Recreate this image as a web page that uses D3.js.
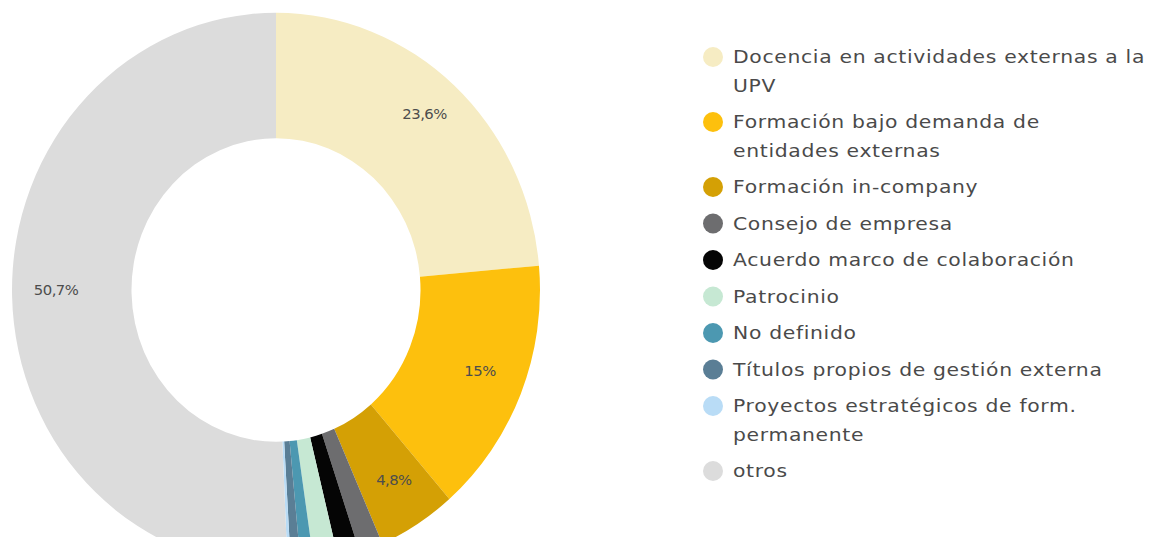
<!DOCTYPE html>
<html>
<head>
<meta charset="utf-8">
<script src="https://cdn.jsdelivr.net/npm/d3@7"></script>
<style>
  body { margin: 0; background: #fff; }
  svg { display: block; }
</style>
</head>
<body>
<div class="chart"></div>
<script>
// data
const categories = [
  'Docencia en actividades externas a la UPV',
  'Formación bajo demanda de entidades externas',
  'Formación in-company',
  'Consejo de empresa',
  'Acuerdo marco de colaboración',
  'Patrocinio',
  'No definido',
  'Títulos propios de gestión externa',
  'Proyectos estratégicos de form. permanente',
  'otros'
];
const values = [23.6, 15, 4.8, 1.45, 1.35, 1.5, 0.8, 0.6, 0.2, 50.7];
const colors = ['#f6ecc3', '#fdc00d', '#d4a005', '#6d6d6f', '#050505',
  '#c6e8d3', '#4c98b1', '#5a7e95', '#b9dcf6', '#dcdcdc'];

const width = 1158, height = 537;
const cx = 276, cy = 290;
const outerR = 264, innerR = 144.5, labelR = 220;
const stretchY = 1.05; // the picture is slightly taller than wide
const textStretch = 1.13; // widen the font a bit, the original face is broad

const data = categories.map((c, i) => ({ name: c, value: values[i], color: colors[i] }));

const svg = d3.select('div.chart')
  .append('svg')
    .attr('width', width)
    .attr('height', height);

const pie = d3.pie()
  .sort(null)
  .value(d => d.value);

const arc = d3.arc()
  .innerRadius(innerR)
  .outerRadius(outerR);

const labelArc = d3.arc()
  .innerRadius(labelR)
  .outerRadius(labelR);

const arcs = pie(data);

const donut = svg.append('g')
  .attr('transform', 'translate(' + cx + ',' + cy + ') scale(1,' + stretchY + ')');

donut.selectAll('path.slice')
  .data(arcs)
  .enter()
  .append('path')
    .attr('class', 'slice')
    .attr('d', arc)
    .attr('fill', d => d.data.color);

// percent labels, only for the big slices
const fmt = v => String(v).replace('.', ',') + '%';

svg.selectAll('g.pct')
  .data(arcs.filter(d => d.data.value >= 4))
  .enter()
  .append('g')
    .attr('class', 'pct')
    .attr('transform', d => 'translate(' + (cx + labelArc.centroid(d)[0]) + ',' +
      (cy + labelArc.centroid(d)[1] * stretchY - 5) + ') scale(1.1,1)')
  .append('text')
    .attr('text-anchor', 'middle')
    .attr('dominant-baseline', 'central')
    .attr('font-family', 'DejaVu Sans, sans-serif')
    .attr('font-size', 13.5)
    .attr('letter-spacing', -0.5)
    .attr('fill', '#4d4d4d')
    .text(d => fmt(d.data.value));

// legend
const legendX = 713, textX = 733, maxW = 416;
const lineH = 28.5, itemH = 36.5;
const legend = svg.append('g').attr('class', 'legend');

let y = 57;
data.forEach(d => {
  const g = legend.append('g');
  g.append('circle')
    .attr('cx', legendX)
    .attr('cy', y)
    .attr('r', 10)
    .attr('fill', d.color);

  const t = g.append('g')
    .attr('transform', 'translate(' + textX + ',0) scale(' + textStretch + ',1)')
    .append('text')
      .attr('font-family', 'DejaVu Sans, sans-serif')
      .attr('font-size', 18)
      .attr('letter-spacing', 0.6)
      .attr('fill', '#4a4a4a');

  // wrap words to the legend width
  const words = d.name.split(' ');
  let line = [];
  let lines = 0;
  let ts = t.append('tspan').attr('x', 0).attr('y', y).attr('dy', '0.35em');
  words.forEach(w => {
    line.push(w);
    ts.text(line.join(' '));
    if (ts.node().getComputedTextLength() * textStretch > maxW && line.length > 1) {
      line.pop();
      ts.text(line.join(' '));
      line = [w];
      lines++;
      ts = t.append('tspan')
        .attr('x', 0)
        .attr('y', y + lines * lineH)
        .attr('dy', '0.35em')
        .text(w);
    }
  });
  y += lines * lineH + itemH;
});
</script>
</body>
</html>
